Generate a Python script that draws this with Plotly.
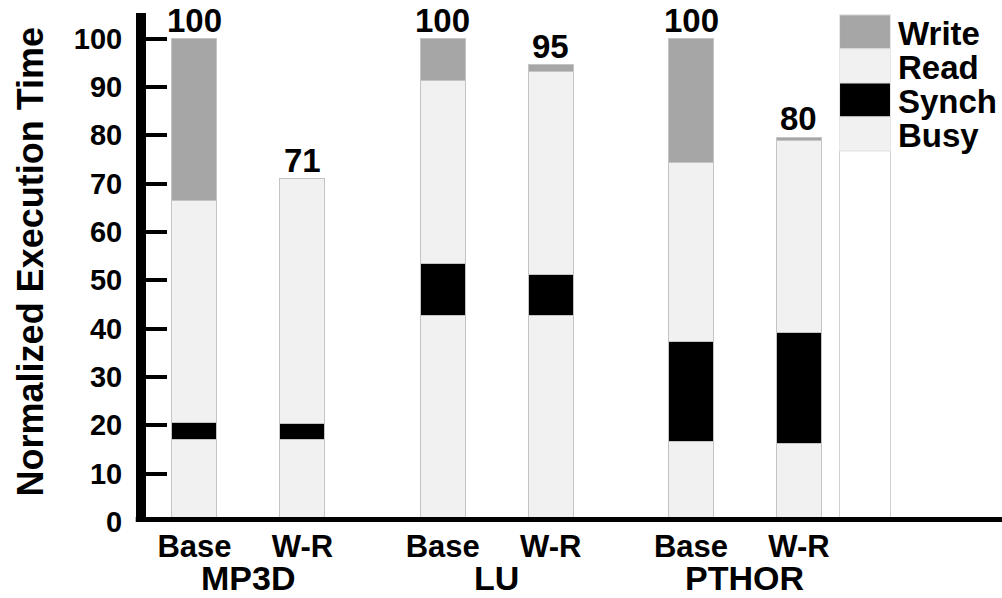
import plotly.graph_objects as go

# ---- data ----
benchmarks = ["MP3D", "LU", "PTHOR"]
configs = ["Base", "W-R"]
busy = [17.1, 17.1, 42.8, 42.8, 16.6, 16.2]
synch = [3.4, 3.3, 10.7, 8.4, 20.8, 23.0]
read = [46.1, 50.6, 37.9, 42.0, 37.0, 39.7]
write = [33.4, 0.0, 8.6, 1.4, 25.6, 0.7]
totals = [100, 71, 100, 95, 100, 80]
y_ticks = [0, 10, 20, 30, 40, 50, 60, 70, 80, 90, 100]

# ---- layout helpers ----
GROUP_GAP = 2.3
BAR_W = 0.417
LIGHT = "#f1f1f1"
MID = "#a6a6a6"
EDGE = "#c4c4c4"
FONT = "Liberation Sans, Arial, sans-serif"

xs = [g * GROUP_GAP + c for g in range(len(benchmarks)) for c in range(len(configs))]
xlabels = [c for _ in benchmarks for c in configs]
stack_tops = [b + s + r + w for b, s, r, w in zip(busy, synch, read, write)]

series = [("Busy", busy, LIGHT), ("Synch", synch, "#000000"),
          ("Read", read, LIGHT), ("Write", write, MID)]

fig = go.Figure()
for name, vals, col in series:
    fig.add_trace(go.Bar(x=xs, y=vals, name=name, width=BAR_W,
                         marker=dict(color=col, line=dict(color=EDGE, width=1)),
                         showlegend=False, hoverinfo="skip"))

annotations = []
for x, top, t in zip(xs, stack_tops, totals):
    annotations.append(dict(x=x, y=top, text=str(t), showarrow=False, yanchor="bottom",
                            yshift=-2, font=dict(family=FONT, size=33, color="black", weight="bold")))

# group labels
for g, b in enumerate(benchmarks):
    annotations.append(dict(x=g * GROUP_GAP + 0.5, y=0, yref="paper", yshift=-36,
                            text=b, showarrow=False, yanchor="top", borderpad=0,
                            font=dict(family=FONT, size=34, color="black", weight="bold")))

# y-axis title
annotations.append(dict(x=-0.1355, y=0.51, xref="paper", yref="paper", textangle=-90,
                        text="Normalized Execution Time", showarrow=False,
                        xanchor="center", yanchor="middle",
                        font=dict(family=FONT, size=36, color="black", weight="bold")))

shapes = []
# thick x-axis baseline centred on zero
shapes.append(dict(type="line", xref="paper", yref="y", x0=-0.012, x1=1, y0=0, y1=0,
                   line=dict(color="black", width=10), layer="above"))

# custom legend column
LX = xs[-1] + 0.612
LW = 0.472
base = 76.8
step = 7.03
shapes.append(dict(type="rect", x0=LX - LW / 2, x1=LX + LW / 2, y0=0, y1=base,
                   fillcolor="white", line=dict(color="#cfcfcf", width=1), layer="below"))
for i, (name, _, col) in enumerate(series):
    y0 = base + i * step
    shapes.append(dict(type="rect", x0=LX - LW / 2, x1=LX + LW / 2, y0=y0, y1=y0 + step,
                       fillcolor=col, line=dict(color="#e6e6e6", width=1)))
    annotations.append(dict(x=LX + LW / 2, y=y0 + step / 2, text=name, showarrow=False,
                            xanchor="left", xshift=6, yshift=-2,
                            font=dict(family=FONT, size=33, color="black", weight="bold")))

fig.update_layout(
    barmode="stack",
    width=1002, height=598,
    margin=dict(l=146, r=0, t=13, b=76),
    plot_bgcolor="white", paper_bgcolor="white",
    shapes=shapes, annotations=annotations,
    xaxis=dict(range=[-0.449, 7.481], tickvals=xs, ticktext=xlabels, showgrid=False,
               zeroline=False, showline=False,
               ticks="", ticklabelstandoff=3, automargin=False,
               tickfont=dict(family=FONT, size=31, color="black", weight="bold")),
    yaxis=dict(range=[0, 105.3], tickvals=y_ticks, showgrid=False, zeroline=False,
               showline=True, linecolor="black", linewidth=10, automargin=False,
               ticks="inside", ticklen=21, tickwidth=4, tickcolor="black",
               ticklabelstandoff=8,
               tickfont=dict(family=FONT, size=29, color="black", weight="bold")),
)

fig.write_html("out.html", config={"displayModeBar": False},
               post_script="document.body.style.margin='0';document.body.style.overflow='hidden';")
